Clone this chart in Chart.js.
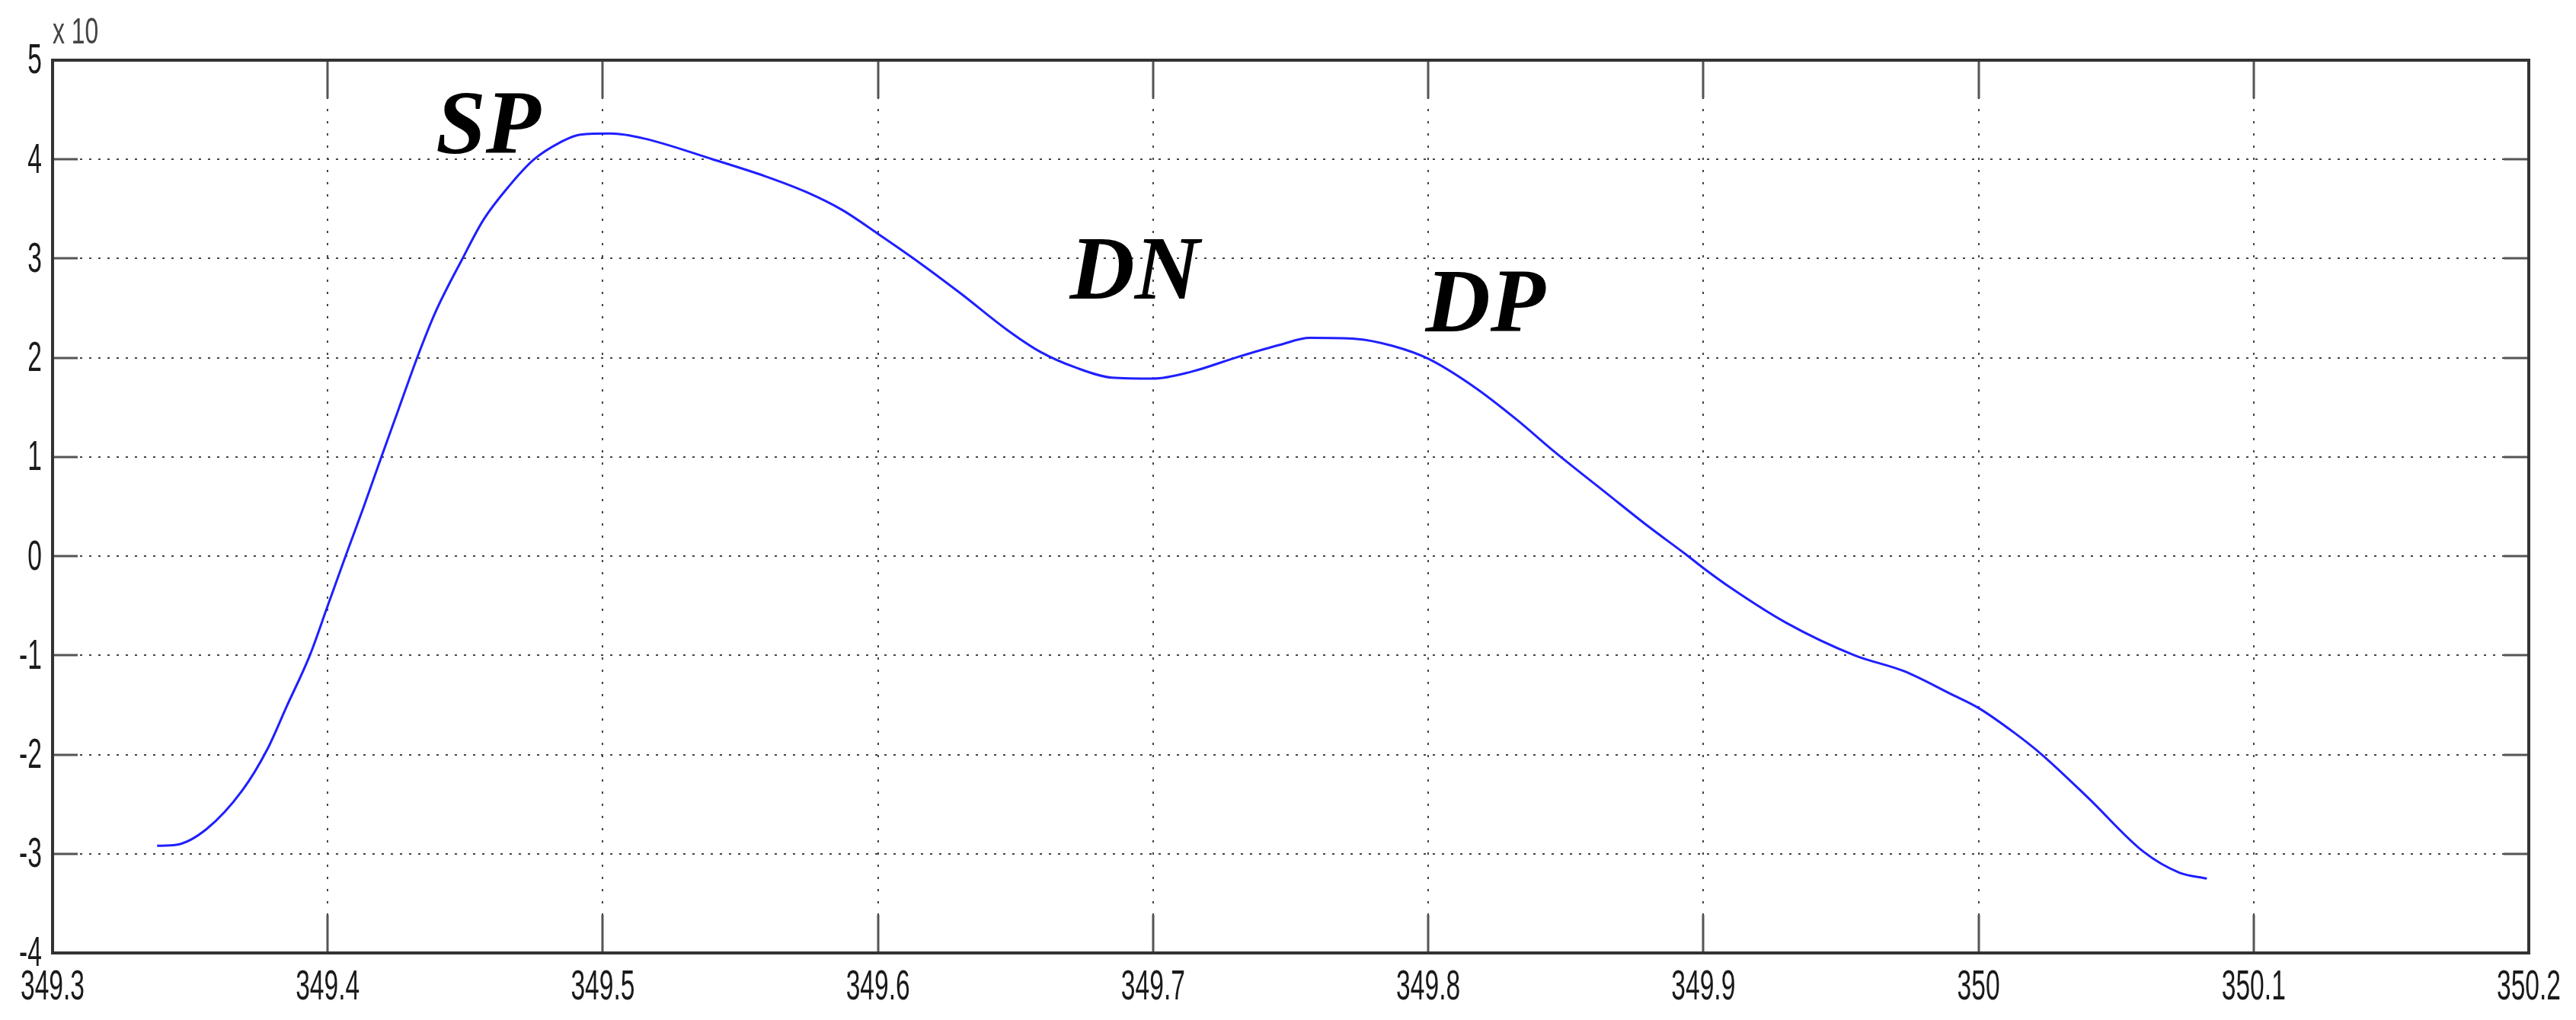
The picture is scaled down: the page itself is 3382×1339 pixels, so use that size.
<!DOCTYPE html>
<html>
<head>
<meta charset="utf-8">
<script src="https://cdn.jsdelivr.net/npm/chart.js@4.4.1/dist/chart.umd.min.js"></script>
<style>
  html, body { margin: 0; padding: 0; background: #ffffff; overflow: hidden; }
  canvas { display: block; }
</style>
</head>
<body>
<canvas id="c" width="3382" height="1339"></canvas>
<script>
// ---- data ----
const xValues = [
  349.338, 349.345, 349.356, 349.369, 349.378, 349.385, 349.3935, 349.400, 349.4065, 349.413,
  349.4195, 349.426, 349.4325, 349.439, 349.449, 349.4566, 349.4659, 349.475, 349.4844, 349.4918,
  349.503, 349.515, 349.540, 349.559, 349.574, 349.587, 349.600, 349.613, 349.630, 349.647,
  349.659, 349.672, 349.685, 349.700, 349.714, 349.731, 349.746, 349.757, 349.774, 349.787,
  349.800, 349.817, 349.832, 349.846, 349.865, 349.880, 349.894, 349.900, 349.910, 349.930,
  349.955, 349.973, 349.990, 350.000, 350.013, 350.023, 350.040, 350.060, 350.073, 350.083
];
const yValues = [
  -2.92, -2.91, -2.75, -2.36, -1.95, -1.52, -1.00, -0.50, 0.00, 0.49,
   1.00,  1.50,  2.00,  2.45,  3.00,  3.39,  3.73,  4.00, 4.17, 4.25,
   4.26,  4.21,  4.00,  3.83,  3.67,  3.49,  3.25,  3.00, 2.65, 2.28,
   2.06,  1.90,  1.80,  1.79,  1.86,  2.01,  2.13,  2.20, 2.19, 2.12,
   1.99,  1.70,  1.38,  1.05,  0.63,  0.30,  0.01, -0.12, -0.32, -0.67,
  -1.00, -1.16, -1.39, -1.53, -1.78, -2.00, -2.44, -2.98, -3.19, -3.25
];
const xTickLabels = ['349.3','349.4','349.5','349.6','349.7','349.8','349.9','350','350.1','350.2'];
const yTickLabels = ['-4','-3','-2','-1','0','1','2','3','4','5'];
const peakLabels = ['SP', 'DN', 'DP'];
const peakLabelX = [349.4393, 349.6697, 349.7990];
const peakLabelY = [4.063, 2.596, 2.266];
const exponentLabel = 'x 10';

const sansFamily = "'Liberation Sans', Arial, 'Helvetica', sans-serif";

function narrowText(ctx, txt, x, y, align, sx) {
  ctx.save();
  ctx.translate(x, y);
  ctx.scale(sx, 1);
  ctx.textAlign = align;
  ctx.fillText(txt, 0, 0);
  ctx.restore();
}

const framePlugin = {
  id: 'matlabFrame',
  beforeDatasetsDraw(chart) {
    const { ctx, chartArea: a, scales } = chart;
    ctx.save();
    ctx.strokeStyle = '#555555';
    ctx.lineWidth = 3;
    ctx.setLineDash([]);
    scales.x.ticks.forEach(t => {
      const px = Math.round(scales.x.getPixelForValue(t.value));
      ctx.beginPath();
      ctx.moveTo(px, a.bottom); ctx.lineTo(px, a.bottom - 50);
      ctx.moveTo(px, a.top); ctx.lineTo(px, a.top + 50);
      ctx.stroke();
    });
    scales.y.ticks.forEach(t => {
      const py = Math.round(scales.y.getPixelForValue(t.value));
      ctx.beginPath();
      ctx.moveTo(a.left, py); ctx.lineTo(a.left + 33, py);
      ctx.moveTo(a.right, py); ctx.lineTo(a.right - 33, py);
      ctx.stroke();
    });
    ctx.strokeStyle = '#333333';
    ctx.lineWidth = 4;
    ctx.strokeRect(a.left, a.top, a.right - a.left, a.bottom - a.top);
    ctx.restore();
  },
  afterDraw(chart) {
    const { ctx, scales, chartArea: a } = chart;
    ctx.save();
    // tick labels (condensed, MATLAB-like)
    ctx.fillStyle = '#1a1a1a';
    ctx.font = '56px ' + sansFamily;
    ctx.textBaseline = 'alphabetic';
    scales.x.ticks.forEach((t, i) => {
      narrowText(ctx, xTickLabels[i], scales.x.getPixelForValue(t.value), a.bottom + 61, 'center', 0.6);
    });
    ctx.textBaseline = 'middle';
    scales.y.ticks.forEach((t, i) => {
      narrowText(ctx, yTickLabels[i], a.left - 14, scales.y.getPixelForValue(t.value) + 2, 'right', 0.6);
    });
    // exponent label
    ctx.fillStyle = '#444444';
    ctx.font = '49px ' + sansFamily;
    ctx.textBaseline = 'alphabetic';
    narrowText(ctx, exponentLabel, a.left, 57, 'left', 0.65);
    // peak annotations
    ctx.fillStyle = '#000000';
    ctx.font = "italic bold 118px 'Liberation Serif', 'Times New Roman', serif";
    ctx.textAlign = 'left';
    peakLabels.forEach((txt, i) => {
      ctx.fillText(txt, scales.x.getPixelForValue(peakLabelX[i]), scales.y.getPixelForValue(peakLabelY[i]));
    });
    ctx.restore();
  }
};

new Chart(document.getElementById('c'), {
  type: 'scatter',
  data: {
    datasets: [{
      data: xValues.map((x, i) => ({ x: x, y: yValues[i] })),
      showLine: true,
      borderColor: '#1f1fff',
      borderWidth: 3,
      pointRadius: 0,
      pointHoverRadius: 0,
      fill: false,
      cubicInterpolationMode: 'monotone'
    }]
  },
  options: {
    responsive: false,
    animation: false,
    devicePixelRatio: 1,
    layout: { padding: { top: 79, right: 62, left: 0, bottom: 0 } },
    plugins: { legend: { display: false }, tooltip: { enabled: false } },
    scales: {
      x: {
        type: 'linear',
        min: 349.3,
        max: 350.2,
        afterFit(scale) { scale.height = 88; },
        ticks: { stepSize: 0.1, autoSkip: false, display: false, maxRotation: 0 },
        grid: { color: '#444444', lineWidth: 2, drawTicks: false },
        border: { display: false, dash: [3, 13] }
      },
      y: {
        type: 'linear',
        min: -4,
        max: 5,
        afterFit(scale) { scale.width = 69; },
        ticks: { stepSize: 1, autoSkip: false, display: false },
        grid: { color: '#444444', lineWidth: 2, drawTicks: false },
        border: { display: false, dash: [3, 9] }
      }
    }
  },
  plugins: [framePlugin]
});
</script>
</body>
</html>
